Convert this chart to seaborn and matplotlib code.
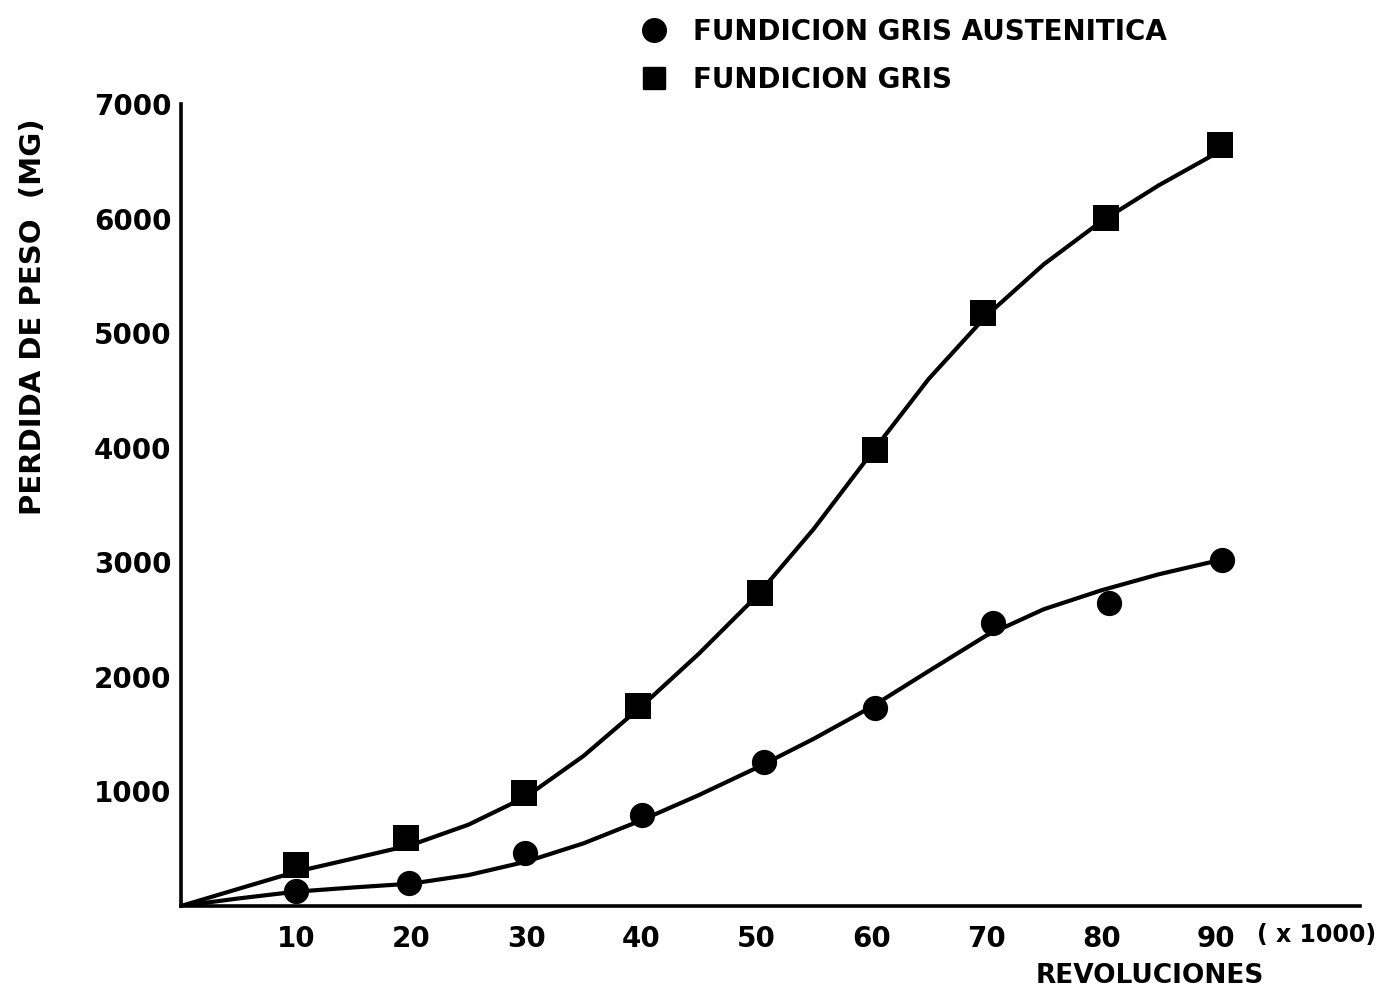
import matplotlib
matplotlib.use("Agg")
import matplotlib.pyplot as plt
from matplotlib.lines import Line2D
import seaborn as sns
import pandas as pd

# ---- data ----
rev_aust = [10.0, 19.8, 29.9, 40.1, 50.7, 60.3, 70.6, 80.7, 90.5]
peso_aust = [134, 203, 465, 794, 1259, 1725, 2472, 2647, 3019]

rev_gris = [10.0, 19.6, 29.8, 39.7, 50.3, 60.3, 69.7, 80.4, 90.3]
peso_gris = [358, 591, 983, 1745, 2729, 3979, 5172, 6001, 6640]

# hand-drawn fitted curves, read along their length
curve_aust_x = [0, 5, 10, 15, 20, 25, 30, 35, 40, 45, 50, 55, 60, 65, 70, 75, 80, 85, 90, 90.5]
curve_aust_y = [0, 66, 125, 162, 195, 270, 387, 547, 747, 967, 1204, 1459, 1736, 2050, 2360, 2590, 2755, 2895, 3012, 3019]

curve_gris_x = [0, 5, 10, 15, 20, 25, 30, 35, 40, 45, 50, 55, 60, 65, 70, 75, 80, 85, 90, 90.3]
curve_gris_y = [0, 150, 299, 415, 532, 710, 954, 1310, 1740, 2200, 2700, 3290, 3950, 4600, 5150, 5600, 5975, 6290, 6570, 6620]

xtick_vals = [10, 20, 30, 40, 50, 60, 70, 80, 90]
xtick_labels = ["10", "20", "30", "40", "50", "60", "70", "80", "90"]
ytick_vals = [1000, 2000, 3000, 4000, 5000, 6000, 7000]
ytick_labels = ["1000", "2000", "3000", "4000", "5000", "6000", "7000"]

label_aust = "FUNDICION GRIS AUSTENITICA"
label_gris = "FUNDICION GRIS"

sns.set_theme(style="white")
plt.rcParams["font.family"] = ["DejaVu Sans"]
plt.rcParams["text.color"] = "black"

fig = plt.figure(figsize=(13.84, 9.96), dpi=100)
ax = fig.add_axes([181 / 1384, 1 - 906 / 996, 1179 / 1384, (906 - 104) / 996])

df_ca = pd.DataFrame({"x": curve_aust_x, "y": curve_aust_y})
df_cg = pd.DataFrame({"x": curve_gris_x, "y": curve_gris_y})
sns.lineplot(data=df_ca, x="x", y="y", ax=ax, color="black", lw=3.0, sort=False)
sns.lineplot(data=df_cg, x="x", y="y", ax=ax, color="black", lw=3.0, sort=False)

df_a = pd.DataFrame({"x": rev_aust, "y": peso_aust})
df_g = pd.DataFrame({"x": rev_gris, "y": peso_gris})
sns.scatterplot(data=df_a, x="x", y="y", ax=ax, color="black", marker="o", s=330,
                edgecolor="black", linewidth=0, zorder=5)
sns.scatterplot(data=df_g, x="x", y="y", ax=ax, color="black", marker="s", s=330,
                edgecolor="black", linewidth=0, zorder=5)

ax.set_xlim(0, 102.5)
ax.set_ylim(0, 7000)
ax.set_xticks(xtick_vals)
ax.set_xticklabels(xtick_labels, fontweight="bold")
ax.set_yticks(ytick_vals)
ax.set_yticklabels(ytick_labels, fontweight="bold")
ax.tick_params(axis="both", direction="in", length=4, width=1.5, labelsize=20,
               colors="black")
ax.tick_params(axis="x", pad=14)
ax.tick_params(axis="y", pad=7)

for side in ["top", "right"]:
    ax.spines[side].set_visible(False)
for side in ["left", "bottom"]:
    ax.spines[side].set_color("black")
    ax.spines[side].set_linewidth(2.6)

ax.set_xlabel("REVOLUCIONES", fontsize=19, fontweight="bold", color="black")
ax.xaxis.set_label_coords((1150 - 181) / 1179, (906 - 963) / 802)
ax.set_ylabel("PERDIDA DE PESO  (MG)", fontsize=21, fontweight="bold", color="black")
ax.yaxis.set_label_coords((47 - 181) / 1179, (906 - 317) / 802)

fig.text(1317 / 1384, 1 - 935 / 996, "( x 1000)", fontsize=17, fontweight="bold",
         ha="center", va="center", color="black")

handles = [
    Line2D([], [], ls="none", marker="o", color="black", markersize=17),
    Line2D([], [], ls="none", marker="s", color="black", markersize=16),
]
leg = fig.legend(handles, [label_aust, label_gris], loc="upper left",
                 bbox_to_anchor=(626 / 1384, 1 - 4 / 996), frameon=False,
                 prop={"size": 20, "weight": "bold"}, borderpad=0,
                 handlelength=1.0, handletextpad=0.92, labelspacing=0.72)
for t in leg.get_texts():
    t.set_color("black")

ax.set_facecolor("white")
fig.patch.set_facecolor("white")
fig.savefig("out.png", dpi=100)
